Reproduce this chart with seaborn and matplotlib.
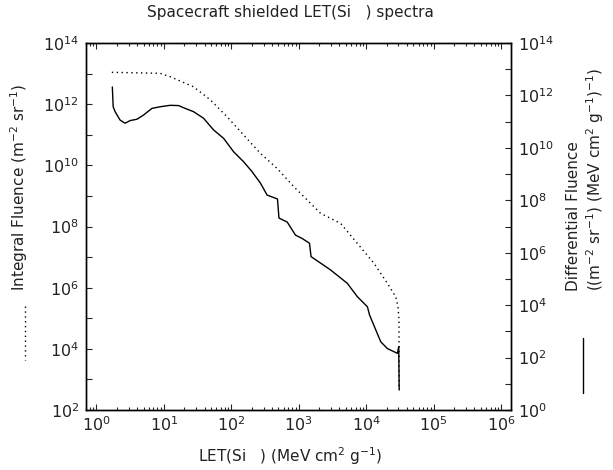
import matplotlib
matplotlib.use("Agg")
import matplotlib.pyplot as plt
import seaborn as sns
import numpy as np
import pandas as pd
from matplotlib.lines import Line2D
from matplotlib.ticker import FixedLocator, LogLocator, FuncFormatter, NullFormatter

# integral fluence, dotted line, left axis
int_let = [1.69, 8.81, 12.4, 27.5, 48.8, 86.3, 152, 270, 478, 843, 1410, 2100,
           4170, 7380, 13000, 20600, 27400, 29600, 30600, 30600]
int_flu = [1.1e13, 1.02e13, 7.9e12, 3.7e12, 1.38e12, 3.9e11, 9.8e10, 2.45e10,
           7.9e9, 2.0e9, 6.5e8, 2.7e8, 1.26e8, 2.8e7, 6.3e6, 1.38e6, 5.0e5,
           2.4e5, 8.9e4, 450]

# differential fluence, solid line, right axis
diff_let = [1.72, 1.77, 1.89, 2.24, 2.66, 3.16, 3.97, 4.98, 6.64, 8.81, 12.4,
            16.5, 20.7, 27.5, 38.7, 54.6, 76.9, 108, 152, 203, 270, 339, 483,
            508, 673, 893, 1120, 1440, 1520, 2960, 5240, 7380, 10400, 11200,
            16400, 20600, 29000, 30300, 30800]
diff_flu = [2.1e12, 3.7e11, 2.4e11, 1.15e11, 8.7e10, 1.1e11, 1.23e11, 1.78e11,
            3.2e11, 3.7e11, 4.2e11, 4.1e11, 3.2e11, 2.4e11, 1.35e11, 4.8e10,
            2.3e10, 7.1e9, 2.95e9, 1.23e9, 4.5e8, 1.58e8, 1.12e8, 2.1e7,
            1.48e7, 4.7e6, 3.5e6, 2.3e6, 7.1e5, 2.2e5, 6.8e4, 2.1e4, 8.7e3,
            4.2e3, 400, 220, 145, 260, 5.8]

# tick values shown on the axes
x_ticks = [1e0, 1e1, 1e2, 1e3, 1e4, 1e5, 1e6]
left_ticks = [1e2, 1e3, 1e4, 1e5, 1e6, 1e7, 1e8, 1e9, 1e10, 1e11, 1e12, 1e13, 1e14]
right_ticks = [1e0, 1e1, 1e2, 1e3, 1e4, 1e5, 1e6, 1e7, 1e8, 1e9, 1e10, 1e11,
               1e12, 1e13, 1e14]

integral = pd.DataFrame({"let": int_let, "fluence": int_flu})
differential = pd.DataFrame({"let": diff_let, "fluence": diff_flu})

sns.set_style("white")
plt.rcParams["font.family"] = ["DejaVu Sans"]
plt.rcParams["mathtext.default"] = "regular"
TXT = 11
TICK = 11.5
INK = "#222222"

W, H = 613, 470
fig = plt.figure(figsize=(W / 100, H / 100), dpi=100)
ax = fig.add_axes([86 / W, 1 - 410 / H, (511 - 86) / W, (410 - 43) / H])
ax2 = ax.twinx()

sns.lineplot(data=integral, x="let", y="fluence", ax=ax, sort=False,
             estimator=None, color="black", linewidth=1.0,
             linestyle=(0, (1, 2.5)))
sns.lineplot(data=differential, x="let", y="fluence", ax=ax2, sort=False,
             estimator=None, color="black", linewidth=1.0)

for a in (ax, ax2):
    a.set_xscale("log")
    a.set_yscale("log")
    a.set_xlabel("")
    a.set_ylabel("")
    for s in a.spines.values():
        s.set_linewidth(1.0)
        s.set_color("black")

ax.set_xlim(0.7, 1.4e6)
ax.set_ylim(1e2, 1e14)
ax2.set_ylim(1e0, 1e14)


def even_exp(v, pos):
    e = int(round(np.log10(v)))
    return f"$10^{{{e}}}$" if e % 2 == 0 else ""


def dec_exp(v, pos):
    e = int(round(np.log10(v)))
    return f"$10^{{{e}}}$"


ax.xaxis.set_major_locator(FixedLocator(x_ticks))
ax.xaxis.set_minor_locator(LogLocator(base=10, subs=np.arange(2, 10), numticks=40))
ax.xaxis.set_major_formatter(FuncFormatter(dec_exp))
ax.xaxis.set_minor_formatter(NullFormatter())
for a, t in ((ax, left_ticks), (ax2, right_ticks)):
    a.yaxis.set_major_locator(FixedLocator(t))
    a.yaxis.set_minor_locator(FixedLocator([]))
    a.yaxis.set_major_formatter(FuncFormatter(even_exp))
    a.yaxis.set_minor_formatter(NullFormatter())

ax.tick_params(axis="x", which="both", direction="in", top=True, bottom=True,
               labelsize=TICK, pad=4, width=0.8, labelcolor=INK)
ax.tick_params(axis="x", which="major", length=4.5)
ax.tick_params(axis="x", which="minor", length=2.2)
ax.tick_params(axis="y", which="both", direction="in", left=True, right=False,
               length=4, width=0.8, labelsize=TICK, pad=5, labelcolor=INK)
ax2.tick_params(axis="y", which="both", direction="in", right=True, left=False,
                length=4, width=0.8, labelsize=TICK, pad=5, labelcolor=INK)

fig.text(290 / W, 1 - 13 / H, "Spacecraft shielded LET(Si   ) spectra",
         ha="center", va="center", fontsize=TXT, color=INK)
fig.text(290 / W, 1 - 456 / H, "LET(Si   ) (MeV cm$^2$ g$^{-1}$)",
         ha="center", va="center", fontsize=TXT, color=INK)
fig.text(19 / W, 1 - 291 / H, "Integral Fluence (m$^{-2}$ sr$^{-1}$)",
         rotation=90, ha="center", va="bottom", fontsize=TXT, color=INK)
fig.text(573 / W, 1 - 291 / H, "Differential Fluence",
         rotation=90, ha="center", va="bottom", fontsize=TXT, color=INK)
fig.text(595 / W, 1 - 291 / H, "((m$^{-2}$ sr$^{-1}$) (MeV cm$^2$ g$^{-1}$)$^{-1}$)",
         rotation=90, ha="center", va="bottom", fontsize=TXT, color=INK)

# line-style keys next to the axis titles
fig.add_artist(Line2D([25 / W, 25 / W], [1 - 306 / H, 1 - 360 / H],
                      transform=fig.transFigure, color="black", linewidth=1.0,
                      linestyle=(0, (1, 2.5))))
fig.add_artist(Line2D([583 / W, 583 / W], [1 - 338 / H, 1 - 393 / H],
                      transform=fig.transFigure, color="black", linewidth=1.0))

fig.savefig("out.png", dpi=100)
